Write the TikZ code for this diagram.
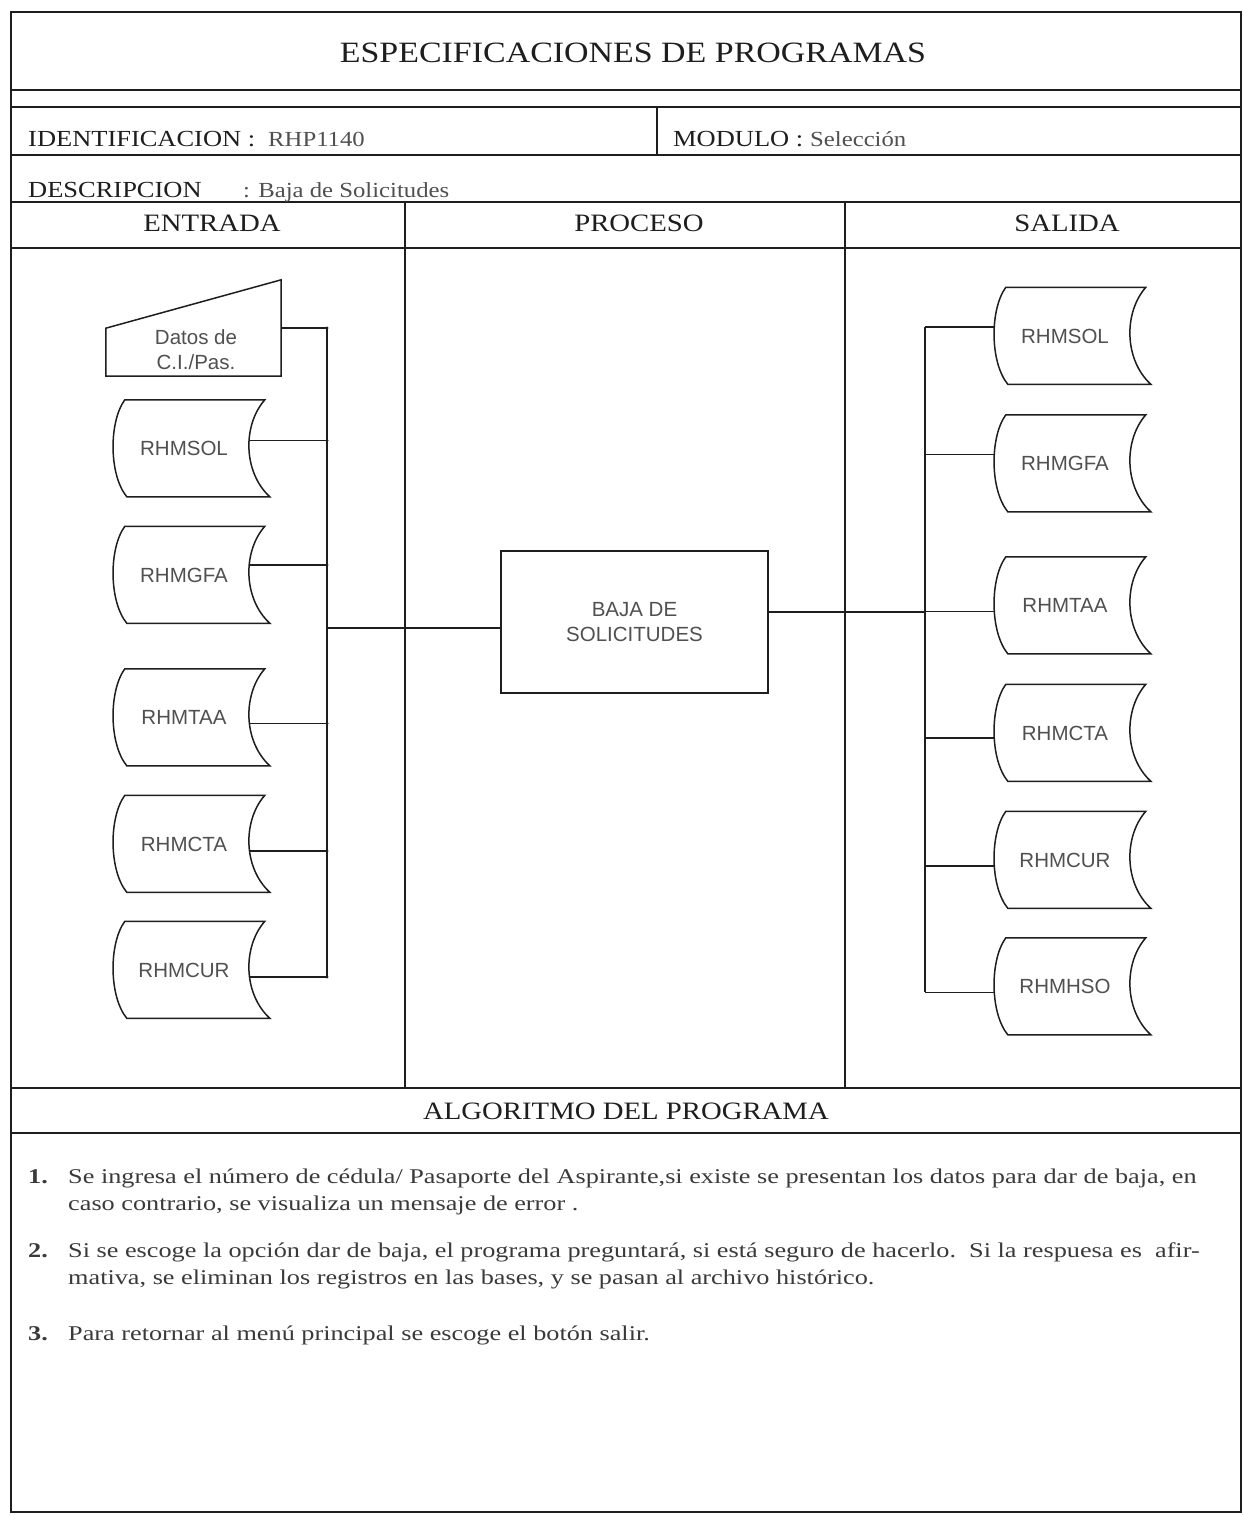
\documentclass[tikz,border=0pt]{standalone}
\usepackage{fontspec}
\setmainfont{Liberation Serif}[FakeStretch=1.15]
\newfontfamily\bodyserif{Liberation Serif}[FakeStretch=1.25]
\newfontfamily\diagsans{Liberation Sans}
\usetikzlibrary{calc}
\definecolor{ink}{HTML}{1E1E1E}
\definecolor{softink}{HTML}{505050}
\definecolor{bodyink}{HTML}{3A3A3A}

\newcommand{\drumoutline}[1]{%
  \draw[shapeline,shift={(#1.north west)}]
    (13,0) -- (153,0) .. controls (131,25) and (131,72) .. (158,97)
    -- (15,97) .. controls (-3,75) and (-3,22) .. (13,0) -- cycle;}

\begin{document}
\begin{tikzpicture}[x=1pt,y=-1pt,
  frame/.style={line width=2pt, draw=ink},
  colrule/.style={line width=1.3pt, draw=ink},
  shapeline/.style={line width=1.5pt, draw=ink},
  link/.style={line width=1.5pt, draw=ink},
  title/.style={font=\fontsize{29.5}{34}\selectfont, text=ink, anchor=base, inner sep=0pt},
  hdr/.style={font=\fontsize{25}{30}\selectfont, text=ink, anchor=base, inner sep=0pt},
  field/.style={font=\fontsize{23}{28}\selectfont, text=ink, anchor=base west, inner sep=0pt},
  value/.style={font=\fontsize{21.5}{26}\selectfont, text=softink, anchor=base west, inner sep=0pt},
  body/.style={font=\bodyserif\fontsize{21}{26}\selectfont, text=bodyink, anchor=base west, inner sep=0pt},
  sanslabel/.style={font=\diagsans\fontsize{20.5}{25}\selectfont, text=softink, align=center, inner sep=0pt},
  drum/.style={draw=none, minimum width=144pt, minimum height=97pt, inner sep=0pt,
               font=\diagsans\fontsize{20.5}{25}\selectfont, text=softink},
  procbox/.style={shapeline, minimum width=267pt, minimum height=142pt, inner sep=0pt,
               font=\diagsans\fontsize{20.5}{25}\selectfont, text=softink, align=center},
  joint/.style={fill=ink, draw=none}
]
\useasboundingbox (0,0) rectangle (1244,1516);
\fill[white] (0,0) rectangle (1244,1516);

% ---- form frame ----
\draw[colrule] (11,12) -- (11,1512);
\draw[colrule] (1241,12) -- (1241,1512);
\foreach \yy in {12,90,107,155,202,248,1088,1133}
  \draw[frame] (10,\yy) -- (1242,\yy);
\draw[line width=2.6pt, draw=ink] (10,1512) -- (1242,1512);
\draw[colrule] (657,107) -- (657,155);
\draw[colrule] (405,202) -- (405,1088);
\draw[colrule] (845,202) -- (845,1088);

% ---- header texts ----
\node[title] (ttl) at (633,62) {ESPECIFICACIONES DE PROGRAMAS};
\node[field] (idf) at (28,146) {IDENTIFICACION :};
\node[value] (idv) at (268,146) {RHP1140};
\node[field] (mdf) at (673,146) {MODULO :};
\node[value] (mdv) at (810,146) {Selección};
\node[field] (dsf) at (28,197) {DESCRIPCION};
\node[value] (dsv) at (243,197) {: Baja de Solicitudes};
\node[hdr] (hin) at (212,231) {ENTRADA};
\node[hdr] (hpr) at (639,231) {PROCESO};
\node[hdr] (hout) at (1067,231) {SALIDA};
\node[hdr] (halg) at (626,1119) {ALGORITMO DEL PROGRAMA};

% ---- input side ----
\node[draw=none, minimum width=175pt, minimum height=96pt, inner sep=0pt] (datos) at (193.5,328) {};
\draw[shapeline] (datos.south west) -- (datos.south east) -- (datos.north east)
  -- ($(datos.south west)+(0,-48)$) -- cycle;
\node[sanslabel] (datostxt) at (196,350) {Datos de\\C.I./Pas.};

\node[drum] (in1) at (184,448.5) {RHMSOL};
\node[drum] (in2) at (184,575) {RHMGFA};
\node[drum] (in3) at (184,717.5) {RHMTAA};
\node[drum] (in4) at (184,844) {RHMCTA};
\node[drum] (in5) at (184,970) {RHMCUR};
\foreach \n in {in1,in2,in3,in4,in5} {\drumoutline{\n}}

\coordinate (lbus) at (327,328);
\coordinate (lbusEnd) at (327,977);
\draw[link] (datos.east) -- (lbus) -- (lbusEnd);
\foreach \n/\dy in {in1/8,in2/10,in3/-6,in4/-7,in5/-7} {
  \draw[link] ([xshift=-7pt,yshift=\dy pt]\n.east) -- ([yshift=\dy pt]\n.east -| lbus);
  \fill[joint] ([yshift=\dy pt]\n.east -| lbus) circle (1.7pt);
}
\fill[joint] (lbus) circle (1.7pt);

% ---- process ----
\node[procbox] (proc) at (634.5,622) {BAJA DE\\SOLICITUDES};
\draw[link] ([yshift=-6pt]proc.west -| lbus) -- ([yshift=-6pt]proc.west);

% ---- output side ----
\node[drum] (out1) at (1065,336) {RHMSOL};
\node[drum] (out2) at (1065,463.5) {RHMGFA};
\node[drum] (out3) at (1065,605.5) {RHMTAA};
\node[drum] (out4) at (1065,733) {RHMCTA};
\node[drum] (out5) at (1065,860) {RHMCUR};
\node[drum] (out6) at (1065,986.5) {RHMHSO};
\foreach \n in {out1,out2,out3,out4,out5,out6} {\drumoutline{\n}}

\coordinate (rbus) at (925,327);
\coordinate (rbusEnd) at (925,992);
\draw[link] (rbus) -- (rbusEnd);
\draw[link] ([yshift=10pt]proc.east) -- ([yshift=10pt]proc.east -| rbus);
\foreach \n/\dy in {out1/9,out2/9,out3/-6,out4/-5,out5/-6,out6/-6} {
  \draw[link] ([yshift=\dy pt]\n.west -| rbus) -- ([xshift=1pt,yshift=\dy pt]\n.west);
}

% ---- algorithm ----
\node[body] (n1) at (28,1183) {\textbf{1.}};
\node[body] (t1a) at (68,1183) {Se ingresa el número de cédula/ Pasaporte del Aspirante,si existe se presentan los datos para dar de baja, en};
\node[body] (t1b) at (68,1210) {caso contrario, se visualiza un mensaje de error .};
\node[body] (n2) at (28,1257) {\textbf{2.}};
\node[body] (t2a) at (68,1257) {Si se escoge la opción dar de baja, el programa preguntará, si está seguro de hacerlo.\ \ Si la respuesa es\ \ afir-};
\node[body] (t2b) at (68,1284) {mativa, se eliminan los registros en las bases, y se pasan al archivo histórico.};
\node[body] (n3) at (28,1340) {\textbf{3.}};
\node[body] (t3) at (68,1340) {Para retornar al menú principal se escoge el botón salir.};
\end{tikzpicture}
\end{document}
